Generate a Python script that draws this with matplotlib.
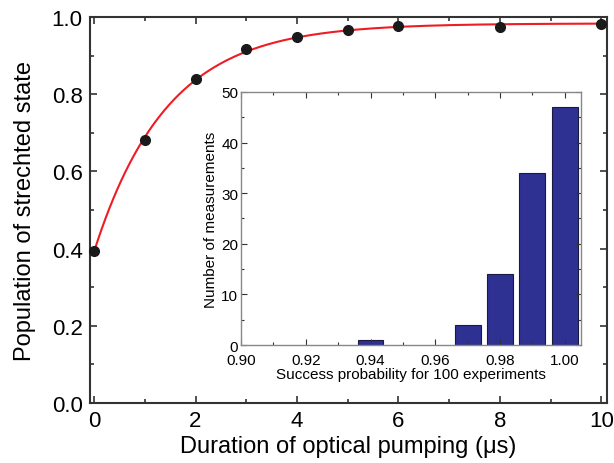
import numpy as np
import matplotlib.pyplot as plt
from matplotlib.ticker import MultipleLocator

plt.rcParams['font.family'] = ['Liberation Sans', 'DejaVu Sans']

# main data: population vs pumping duration
t_us = [0, 1, 2, 3, 4, 5, 6, 8, 10]
population = [0.395, 0.68, 0.839, 0.918, 0.947, 0.967, 0.977, 0.974, 0.981]

# inset histogram
prob_bins = [0.94, 0.97, 0.98, 0.99, 1.00]
counts = [1, 4, 14, 34, 47]

# exponential fit y = A - B*exp(-t/tau), tau by grid search
tt = np.array(t_us, float)
yy = np.array(population)
best = None
for tau in np.linspace(0.5, 4, 701):
    M = np.column_stack([np.ones_like(tt), -np.exp(-tt / tau)])
    coef, res, *_ = np.linalg.lstsq(M, yy, rcond=None)
    err = np.sum((M @ coef - yy) ** 2)
    if best is None or err < best[0]:
        best = (err, tau, coef)
_, tau, (A, B) = best
tfit = np.linspace(0, 10, 400)
yfit = A - B * np.exp(-tfit / tau)

fig = plt.figure(figsize=(6.14, 4.64), dpi=100)
ax = fig.add_axes([0.1458, 0.1293, 0.842, 0.832])

ax.plot(tfit, yfit, color='#ee1c24', lw=1.5, zorder=2)
ax.plot(t_us, population, 'o', color='#1a1a1a', ms=7, zorder=3, clip_on=False)

ax.set_xlim(-0.09, 10.1)
ax.set_ylim(0, 1.0)
ax.xaxis.set_major_locator(MultipleLocator(2))
ax.xaxis.set_minor_locator(MultipleLocator(1))
ax.yaxis.set_major_locator(MultipleLocator(0.2))
ax.yaxis.set_minor_locator(MultipleLocator(0.1))
ax.yaxis.set_major_formatter(plt.FormatStrFormatter('%.1f'))
ax.tick_params(which='both', direction='in', top=True, right=True,
               color='#333333', width=1.2, labelsize=16, pad=5)
ax.tick_params(which='major', length=5)
ax.tick_params(which='minor', length=3)
for s in ax.spines.values():
    s.set_color('#333333')
    s.set_linewidth(1.5)
ax.set_xlabel('Duration of optical pumping (μs)', fontsize=17, labelpad=3)
ax.set_ylabel('Population of strechted state', fontsize=17, labelpad=11)

# inset
ins = fig.add_axes([0.3925, 0.2543, 0.5537, 0.5453])
ins.bar(prob_bins, counts, width=0.008, color='#2e3192', edgecolor='#1a1a40', lw=0.8)
ins.set_xlim(0.90, 1.005)
ins.set_ylim(0, 50)
ins.xaxis.set_major_locator(MultipleLocator(0.02))
ins.xaxis.set_minor_locator(MultipleLocator(0.01))
ins.yaxis.set_major_locator(MultipleLocator(10))
ins.yaxis.set_minor_locator(MultipleLocator(5))
ins.xaxis.set_major_formatter(plt.FormatStrFormatter('%.2f'))
ins.tick_params(which='both', direction='in', top=True, right=True,
                color='#333333', width=0.8, labelsize=11, pad=2)
ins.tick_params(axis='x', pad=6)
ins.tick_params(which='major', length=4)
ins.tick_params(which='minor', length=2.5)
for s in ins.spines.values():
    s.set_color('#888888')
    s.set_linewidth(1.0)
ins.set_xlabel('Success probability for 100 experiments', fontsize=11, labelpad=0)
ins.set_ylabel('Number of measurements', fontsize=11, labelpad=2)

fig.savefig('out.png', dpi=100)
